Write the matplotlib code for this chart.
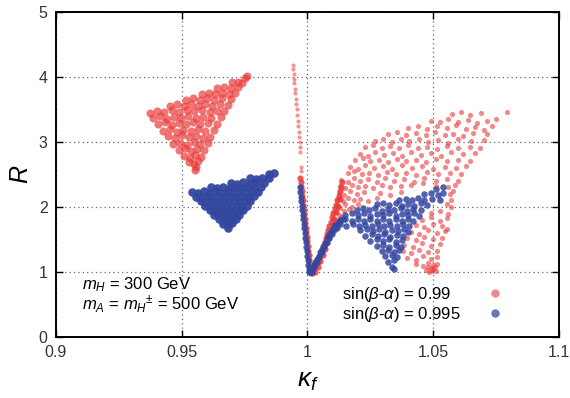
import numpy as np
import matplotlib.pyplot as plt
from matplotlib.lines import Line2D

plt.rcParams['font.family'] = ['Liberation Sans', 'DejaVu Sans']
plt.rcParams['mathtext.fontset'] = 'custom'
plt.rcParams['mathtext.rm'] = 'Liberation Sans'
plt.rcParams['mathtext.it'] = 'Liberation Sans:italic'

# axis ticks
x_ticks = [0.9, 0.95, 1.0, 1.05, 1.1]
x_labels = ['0.9', '0.95', '1', '1.05', '1.1']
y_ticks = [0, 1, 2, 3, 4, 5]

# sin(beta-alpha) = 0.99  (kappa_f, R) points
red_wedge = [
    (0.9551, 2.57), (0.9556, 2.62),
    (0.9530, 2.69), (0.9548, 2.66), (0.9566, 2.70),
    (0.9508, 2.79), (0.9531, 2.76), (0.9554, 2.80), (0.9578, 2.77),
    (0.9489, 2.87), (0.9513, 2.90), (0.9538, 2.86), (0.9562, 2.89), (0.9590, 2.88),
    (0.9467, 2.97), (0.9494, 2.99), (0.9520, 2.96), (0.9547, 3.00), (0.9574, 2.97), (0.9603, 2.99),
    (0.9447, 3.09), (0.9474, 3.06), (0.9500, 3.10), (0.9527, 3.07), (0.9555, 3.09), (0.9583, 3.06),
    (0.9614, 3.08),
    (0.9426, 3.17), (0.9452, 3.20), (0.9480, 3.16), (0.9507, 3.19), (0.9535, 3.17), (0.9563, 3.20),
    (0.9592, 3.17), (0.9628, 3.19),
    (0.9405, 3.27), (0.9433, 3.30), (0.9461, 3.26), (0.9489, 3.29), (0.9517, 3.27), (0.9545, 3.30),
    (0.9574, 3.27), (0.9604, 3.29), (0.9640, 3.28),
    (0.9384, 3.37), (0.9412, 3.40), (0.9440, 3.36), (0.9468, 3.39), (0.9497, 3.37), (0.9526, 3.40),
    (0.9555, 3.37), (0.9585, 3.39), (0.9616, 3.37), (0.9655, 3.39),
    (0.9375, 3.45), (0.9402, 3.48), (0.9430, 3.46), (0.9460, 3.49), (0.9490, 3.46), (0.9520, 3.49),
    (0.9550, 3.47), (0.9582, 3.49), (0.9614, 3.46), (0.9642, 3.47), (0.9668, 3.48),
    (0.9455, 3.56), (0.9482, 3.58), (0.9510, 3.56), (0.9538, 3.59), (0.9566, 3.56), (0.9594, 3.58),
    (0.9622, 3.56), (0.9652, 3.58), (0.9684, 3.57),
    (0.9517, 3.65), (0.9545, 3.67), (0.9573, 3.65), (0.9601, 3.68), (0.9629, 3.65), (0.9660, 3.67),
    (0.9696, 3.66),
    (0.9580, 3.74), (0.9607, 3.76), (0.9634, 3.74), (0.9661, 3.76), (0.9688, 3.74), (0.9712, 3.76),
    (0.9642, 3.83), (0.9668, 3.85), (0.9694, 3.83), (0.9722, 3.85),
    (0.9698, 3.92), (0.9722, 3.93), (0.9740, 3.91),
    (0.9752, 3.99), (0.9760, 4.02),
]

red_streak = [
    (0.99420, 4.18), (0.99434, 4.12), (0.99449, 4.05), (0.99467, 3.97), (0.99483, 3.90),
    (0.99501, 3.82), (0.99517, 3.75), (0.99538, 3.66), (0.99556, 3.58), (0.99574, 3.50),
    (0.99592, 3.42), (0.99612, 3.33), (0.99630, 3.25), (0.99651, 3.16), (0.99669, 3.08),
    (0.99687, 3.00), (0.99705, 2.92), (0.99721, 2.85), (0.99740, 2.62), (0.99750, 2.55),
]

red_arm = [
    (0.99720, 2.45), (0.99740, 2.38), (0.99760, 2.31), (0.99780, 2.24), (0.99799, 2.17),
    (0.99819, 2.10), (0.99839, 2.03), (0.99859, 1.96), (0.99879, 1.89), (0.99899, 1.82),
    (0.99919, 1.75), (0.99939, 1.68), (0.99958, 1.61), (0.99978, 1.54), (0.99998, 1.47),
    (1.00018, 1.40), (1.00038, 1.33), (1.00058, 1.26), (1.00078, 1.19), (1.00097, 1.12),
    (1.00117, 1.05), (1.00134, 0.99),
    (1.0018, 0.98), (1.0025, 1.04), (1.0032, 1.10), (1.0040, 1.16), (1.0047, 1.22), (1.0053, 1.28),
    (1.0058, 1.34), (1.0063, 1.40), (1.0068, 1.46), (1.0073, 1.52), (1.0077, 1.58), (1.0082, 1.64),
    (1.0087, 1.70), (1.0093, 1.77), (1.0098, 1.84), (1.0103, 1.91), (1.0108, 1.97), (1.0113, 2.03),
    (1.0118, 2.10), (1.0124, 2.17), (1.0129, 2.24), (1.0134, 2.31), (1.0138, 2.38),
    (1.0030, 1.00), (1.0040, 1.08), (1.0050, 1.17), (1.0060, 1.26), (1.0068, 1.35), (1.0076, 1.44),
    (1.0084, 1.53), (1.0092, 1.62), (1.0100, 1.72), (1.0107, 1.82), (1.0115, 1.92), (1.0123, 2.02),
    (1.0130, 2.12),
]

red_fan = [
    (1.0575, 3.43), (1.0610, 3.46), (1.0645, 3.41), (1.0690, 3.45), (1.0795, 3.46),
    (1.0490, 3.33), (1.0525, 3.30), (1.0560, 3.35), (1.0600, 3.31), (1.0640, 3.34), (1.0675, 3.29),
    (1.0715, 3.33), (1.0750, 3.36),
    (1.0400, 3.22), (1.0440, 3.25), (1.0475, 3.20), (1.0515, 3.24), (1.0555, 3.21), (1.0590, 3.26),
    (1.0630, 3.20), (1.0665, 3.23), (1.0700, 3.19), (1.0735, 3.24),
    (1.0320, 3.12), (1.0355, 3.15), (1.0390, 3.10), (1.0430, 3.14), (1.0470, 3.11), (1.0505, 3.15),
    (1.0545, 3.10), (1.0580, 3.13), (1.0620, 3.09), (1.0660, 3.14), (1.0715, 3.12),
    (1.0270, 3.02), (1.0300, 3.05), (1.0335, 3.00), (1.0370, 3.04), (1.0405, 3.01), (1.0445, 3.05),
    (1.0480, 3.00), (1.0520, 3.03), (1.0560, 2.99), (1.0600, 3.04), (1.0650, 3.01), (1.0700, 3.03),
    (1.0230, 2.92), (1.0260, 2.95), (1.0295, 2.90), (1.0330, 2.94), (1.0365, 2.91), (1.0400, 2.95),
    (1.0440, 2.90), (1.0475, 2.93), (1.0515, 2.89), (1.0555, 2.94), (1.0600, 2.91), (1.0645, 2.93),
    (1.0685, 2.90),
    (1.0210, 2.82), (1.0240, 2.79), (1.0270, 2.84), (1.0305, 2.80), (1.0340, 2.83), (1.0375, 2.79),
    (1.0410, 2.84), (1.0450, 2.80), (1.0490, 2.83), (1.0530, 2.79), (1.0570, 2.84), (1.0620, 2.81),
    (1.0665, 2.83),
    (1.0190, 2.72), (1.0220, 2.75), (1.0250, 2.70), (1.0285, 2.73), (1.0320, 2.69), (1.0355, 2.74),
    (1.0390, 2.70), (1.0430, 2.73), (1.0470, 2.69), (1.0510, 2.74), (1.0555, 2.71), (1.0600, 2.73),
    (1.0645, 2.70),
    (1.0170, 2.62), (1.0200, 2.59), (1.0230, 2.64), (1.0265, 2.60), (1.0300, 2.63), (1.0335, 2.59),
    (1.0375, 2.64), (1.0415, 2.60), (1.0455, 2.63), (1.0500, 2.59), (1.0545, 2.62), (1.0590, 2.60),
    (1.0630, 2.63),
    (1.0160, 2.52), (1.0185, 2.55), (1.0215, 2.50), (1.0245, 2.53), (1.0280, 2.49), (1.0315, 2.54),
    (1.0350, 2.50), (1.0390, 2.53), (1.0430, 2.49), (1.0475, 2.54), (1.0520, 2.50), (1.0565, 2.53),
    (1.0610, 2.51),
    (1.0135, 2.42), (1.0160, 2.39), (1.0185, 2.44), (1.0210, 2.40), (1.0240, 2.43), (1.0275, 2.39),
    (1.0310, 2.44), (1.0345, 2.40), (1.0385, 2.43), (1.0425, 2.39), (1.0465, 2.44), (1.0510, 2.40),
    (1.0555, 2.43), (1.0600, 2.40),
    (1.0130, 2.32), (1.0150, 2.29), (1.0175, 2.34), (1.0200, 2.30), (1.0230, 2.33), (1.0260, 2.29),
    (1.0295, 2.34), (1.0330, 2.30), (1.0370, 2.33), (1.0410, 2.34), (1.0460, 2.37), (1.0510, 2.33),
    (1.0560, 2.30), (1.0585, 2.34),
    (1.0125, 2.22), (1.0145, 2.19), (1.0170, 2.24), (1.0195, 2.20), (1.0225, 2.23), (1.0290, 2.22),
    (1.0330, 2.18), (1.0370, 2.23), (1.0565, 2.20), (1.0580, 2.25),
    (1.0120, 2.12), (1.0140, 2.09), (1.0160, 2.14), (1.0185, 2.10), (1.0210, 2.13), (1.0240, 2.09),
    (1.0275, 2.14), (1.0570, 2.10),
    (1.0115, 2.02), (1.0130, 1.98), (1.0150, 2.04), (1.0175, 2.00), (1.0200, 2.05), (1.0570, 2.00),
    (1.0555, 2.05),
    (1.0108, 1.92), (1.0125, 1.88), (1.0145, 1.94), (1.0165, 1.97), (1.0490, 1.90), (1.0525, 1.94),
    (1.0560, 1.89),
    (1.0105, 1.82), (1.0120, 1.78), (1.0135, 1.84), (1.0455, 1.80), (1.0490, 1.84), (1.0525, 1.79),
    (1.0555, 1.83),
    (1.0430, 1.72), (1.0465, 1.69), (1.0500, 1.74), (1.0535, 1.70), (1.0555, 1.66),
    (1.0410, 1.62), (1.0445, 1.59), (1.0480, 1.64), (1.0515, 1.60), (1.0545, 1.63),
    (1.0395, 1.52), (1.0430, 1.49), (1.0465, 1.54), (1.0500, 1.50), (1.0535, 1.53),
    (1.0385, 1.42), (1.0420, 1.39), (1.0455, 1.44), (1.0490, 1.40), (1.0525, 1.43),
    (1.0380, 1.32), (1.0410, 1.29), (1.0445, 1.34), (1.0480, 1.30), (1.0515, 1.33),
    (1.0395, 1.22), (1.0430, 1.19), (1.0460, 1.24), (1.0490, 1.20), (1.0515, 1.23),
    (1.0430, 1.12), (1.0460, 1.09), (1.0480, 1.14), (1.0500, 1.10), (1.0515, 1.13), (1.0490, 1.06),
    (1.0470, 1.03), (1.0485, 1.00), (1.0500, 1.04), (1.0512, 1.01), (1.0495, 1.02), (1.0478, 1.07),
    (1.0505, 1.07),
]

# sin(beta-alpha) = 0.995
blue_wedge = [
    (0.9684, 1.67),
    (0.9665, 1.74), (0.9684, 1.73), (0.9699, 1.75),
    (0.9647, 1.81), (0.9665, 1.80), (0.9683, 1.82), (0.9700, 1.80), (0.9714, 1.82),
    (0.9629, 1.88), (0.9648, 1.87), (0.9667, 1.89), (0.9686, 1.87), (0.9705, 1.89), (0.9728, 1.88),
    (0.9611, 1.95), (0.9630, 1.94), (0.9650, 1.96), (0.9670, 1.94), (0.9690, 1.96), (0.9710, 1.94),
    (0.9731, 1.96), (0.9744, 1.95),
    (0.9594, 2.02), (0.9614, 2.01), (0.9634, 2.03), (0.9655, 2.01), (0.9676, 2.03), (0.9697, 2.01),
    (0.9718, 2.03), (0.9739, 2.01), (0.9758, 2.02),
    (0.9576, 2.09), (0.9597, 2.08), (0.9618, 2.10), (0.9640, 2.08), (0.9662, 2.10), (0.9684, 2.08),
    (0.9706, 2.10), (0.9728, 2.08), (0.9750, 2.10), (0.9772, 2.09),
    (0.9558, 2.16), (0.9580, 2.15), (0.9603, 2.17), (0.9626, 2.15), (0.9649, 2.17), (0.9672, 2.15),
    (0.9695, 2.17), (0.9718, 2.15), (0.9741, 2.17), (0.9764, 2.15), (0.9787, 2.17),
    (0.9540, 2.23), (0.9563, 2.22), (0.9587, 2.24), (0.9611, 2.22), (0.9635, 2.24), (0.9659, 2.22),
    (0.9683, 2.24), (0.9707, 2.22), (0.9731, 2.24), (0.9755, 2.22), (0.9780, 2.24), (0.9802, 2.23),
    (0.9618, 2.30), (0.9642, 2.29), (0.9666, 2.31), (0.9690, 2.29), (0.9714, 2.31), (0.9738, 2.29),
    (0.9762, 2.31), (0.9786, 2.29), (0.9814, 2.30),
    (0.9695, 2.37), (0.9720, 2.36), (0.9745, 2.38), (0.9770, 2.36), (0.9795, 2.38), (0.9828, 2.37),
    (0.9772, 2.44), (0.9796, 2.43), (0.9820, 2.45), (0.9845, 2.44),
    (0.9848, 2.51), (0.9866, 2.53),
]

blue_arm = [
    (0.99700, 2.30), (0.99719, 2.23), (0.99739, 2.16), (0.99758, 2.09), (0.99778, 2.02),
    (0.99797, 1.95), (0.99816, 1.88), (0.99836, 1.81), (0.99855, 1.74), (0.99874, 1.67),
    (0.99894, 1.60), (0.99913, 1.53), (0.99933, 1.46), (0.99952, 1.39), (0.99971, 1.32),
    (0.99991, 1.25), (1.00010, 1.18), (1.00030, 1.11), (1.00049, 1.04), (1.00060, 1.00),
    (1.0010, 1.00), (1.0017, 1.05), (1.0024, 1.10), (1.0031, 1.15), (1.0038, 1.20), (1.0045, 1.25),
    (1.0051, 1.30), (1.0058, 1.35), (1.0064, 1.40), (1.0070, 1.45), (1.0076, 1.50), (1.0083, 1.55),
    (1.0090, 1.60), (1.0097, 1.65), (1.0104, 1.69), (1.0112, 1.73), (1.0121, 1.76), (1.0131, 1.79),
    (1.0141, 1.82),
    (1.0016, 1.00), (1.0026, 1.08), (1.0036, 1.16), (1.0046, 1.23), (1.0056, 1.31), (1.0066, 1.38),
    (1.0076, 1.46), (1.0086, 1.53), (1.0096, 1.59), (1.0106, 1.64), (1.0118, 1.68),
]

blue_fan = [
    (1.0510, 2.27), (1.0540, 2.30),
    (1.0465, 2.20), (1.0490, 2.22), (1.0520, 2.18), (1.0540, 2.21),
    (1.0365, 2.11), (1.0390, 2.13), (1.0415, 2.10), (1.0440, 2.14), (1.0465, 2.11), (1.0495, 2.13),
    (1.0525, 2.10),
    (1.0275, 2.04), (1.0300, 2.06), (1.0325, 2.03), (1.0350, 2.06), (1.0375, 2.02), (1.0400, 2.05),
    (1.0425, 2.02), (1.0450, 2.06), (1.0475, 2.03),
    (1.0195, 1.96), (1.0220, 1.98), (1.0245, 1.95), (1.0270, 1.98), (1.0295, 1.94), (1.0320, 1.97),
    (1.0345, 1.95), (1.0370, 1.98), (1.0395, 1.94), (1.0420, 1.97), (1.0450, 1.95),
    (1.0150, 1.88), (1.0175, 1.90), (1.0200, 1.87), (1.0225, 1.90), (1.0250, 1.86), (1.0275, 1.89),
    (1.0300, 1.87), (1.0325, 1.90), (1.0350, 1.86), (1.0375, 1.89), (1.0400, 1.87), (1.0425, 1.90),
    (1.0445, 1.86),
    (1.0128, 1.80), (1.0150, 1.82), (1.0175, 1.79), (1.0200, 1.82), (1.0225, 1.78), (1.0250, 1.81),
    (1.0275, 1.79), (1.0300, 1.82), (1.0325, 1.78), (1.0350, 1.81), (1.0375, 1.79), (1.0400, 1.82),
    (1.0420, 1.78),
    (1.0108, 1.72), (1.0130, 1.74), (1.0155, 1.71), (1.0180, 1.74), (1.0205, 1.70), (1.0230, 1.73),
    (1.0255, 1.71), (1.0280, 1.74), (1.0305, 1.70), (1.0330, 1.73), (1.0355, 1.71), (1.0380, 1.74),
    (1.0405, 1.70),
    (1.0210, 1.64), (1.0235, 1.66), (1.0260, 1.63), (1.0285, 1.66), (1.0310, 1.62), (1.0335, 1.65),
    (1.0360, 1.63), (1.0385, 1.66), (1.0400, 1.62),
    (1.0230, 1.56), (1.0255, 1.58), (1.0280, 1.55), (1.0305, 1.58), (1.0330, 1.54), (1.0355, 1.57),
    (1.0380, 1.55),
    (1.0250, 1.48), (1.0275, 1.50), (1.0300, 1.47), (1.0325, 1.50), (1.0350, 1.46), (1.0375, 1.49),
    (1.0275, 1.40), (1.0300, 1.42), (1.0325, 1.39), (1.0350, 1.42), (1.0370, 1.38),
    (1.0295, 1.32), (1.0320, 1.34), (1.0345, 1.31), (1.0362, 1.34),
    (1.0310, 1.24), (1.0335, 1.26), (1.0355, 1.23),
    (1.0322, 1.16), (1.0345, 1.18),
    (1.0335, 1.08), (1.0345, 1.04),
]

legend_labels = [r'sin($\beta$-$\alpha$) = 0.99', r'sin($\beta$-$\alpha$) = 0.995']

red = '#ea3b3b'
blue = '#3447a0'

fig = plt.figure(figsize=(5.7, 3.98), dpi=100)
ax = fig.add_axes([0.0982, 0.1533, 0.8825, 0.8166])

def draw(pts, color, size, alpha):
    k, r = np.array(pts).T
    ax.scatter(k, r, s=size, color=color, alpha=alpha, linewidths=0, zorder=3)

draw(red_wedge, red, 34, 0.7)
draw(red_streak, red, 9, 0.55)
draw(red_arm, red, 20, 0.85)
draw(red_fan, red, 14, 0.6)
draw(blue_wedge, blue, 38, 0.95)
draw(blue_arm, blue, 20, 0.9)
draw(blue_fan, blue, 22, 0.85)

ax.set_xlim(0.9, 1.1)
ax.set_ylim(0, 5)
ax.set_xticks(x_ticks)
ax.set_xticklabels(x_labels)
ax.set_yticks(y_ticks)
ax.tick_params(direction='in', length=5, width=1, top=True, right=True,
               labelsize=11.5, labelcolor='#333333', pad=6)
ax.grid(True, linestyle=(0, (1, 2.5)), color='#666666', linewidth=0.9)
for s in ax.spines.values():
    s.set_linewidth(1.4)

ax.set_xlabel(r'$\kappa_f$', fontsize=19, labelpad=6)
ax.set_ylabel(r'$R$', fontsize=18, labelpad=4)

ax.text(0.052, 0.16, r'$m_H$ = 300 GeV', transform=ax.transAxes, fontsize=12, va='center')
ax.text(0.052, 0.1, r'$m_A$ = $m_{H}{}^{\pm}$ = 500 GeV', transform=ax.transAxes,
        fontsize=12, va='center')

# legend: left-aligned labels with the key markers to their right
ax.text(0.569, 0.13, legend_labels[0], transform=ax.transAxes, fontsize=12, va='center')
ax.text(0.569, 0.07, legend_labels[1], transform=ax.transAxes, fontsize=12, va='center')
handles = [Line2D([], [], marker='o', linestyle='none', markersize=5, color='#ee8a8c'),
           Line2D([], [], marker='o', linestyle='none', markersize=5, color='#6675b8')]
ax.legend(handles, ['', ''], loc='lower right', bbox_to_anchor=(0.9, 0.022), frameon=False,
          handletextpad=0, handlelength=0.6, labelspacing=0.27, borderpad=0, fontsize=12)

fig.savefig('out.png', dpi=100)
